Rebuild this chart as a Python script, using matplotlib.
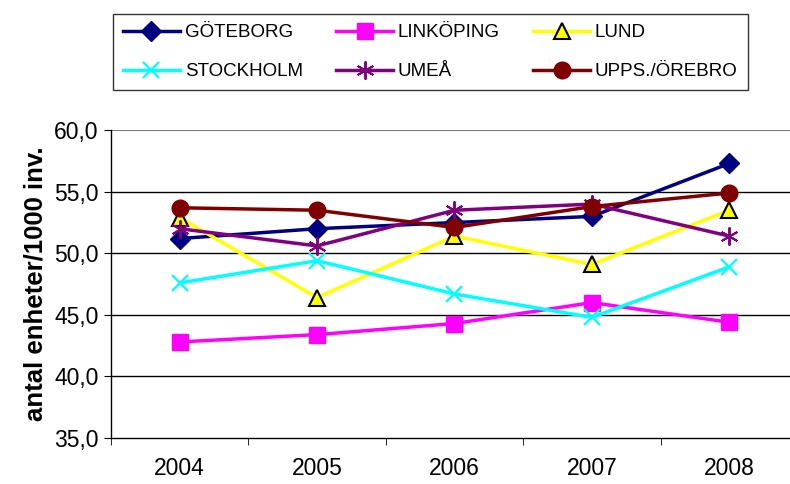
import numpy as np
import matplotlib.pyplot as plt

plt.rcParams['font.family'] = ['Liberation Sans', 'DejaVu Sans']

years = ['2004', '2005', '2006', '2007', '2008']
goteborg = [51.2, 52.0, 52.5, 53.0, 57.3]
linkoping = [42.8, 43.4, 44.3, 46.0, 44.4]
lund = [52.9, 46.4, 51.4, 49.1, 53.5]
stockholm = [47.6, 49.4, 46.7, 44.8, 48.9]
umea = [52.0, 50.6, 53.5, 54.0, 51.4]
upps_orebro = [53.7, 53.5, 52.1, 53.8, 54.9]

x = np.arange(len(years))

fig = plt.figure(figsize=(7.9, 4.84), dpi=100)
ax = fig.add_axes([0.1405, 0.095, 0.8696, 0.636])

lw = 2.5
h_gbg, = ax.plot(x, goteborg, color='#000080', lw=lw, marker='D', ms=10, label='GÖTEBORG')
h_lkp, = ax.plot(x, linkoping, color='#FF00FF', lw=lw, marker='s', ms=11, label='LINKÖPING')
h_lund, = ax.plot(x, lund, color='#FFFF00', lw=lw, marker='^', ms=12, mfc='#FFFF00',
                  mec='black', mew=1.5, label='LUND')
h_sthlm, = ax.plot(x, stockholm, color='#00FFFF', lw=lw, marker='x', ms=12, mew=1.6,
                   label='STOCKHOLM')
h_umea, = ax.plot(x, umea, color='#800080', lw=lw, marker=(6, 2, 0), ms=13, mew=1.4,
                  label='UMEÅ')
h_upps, = ax.plot(x, upps_orebro, color='#800000', lw=lw, marker='o', ms=12,
                  label='UPPS./ÖREBRO')

ax.set_xlim(-0.5, 4.5)
ax.set_ylim(35, 60)
ax.set_yticks(np.arange(35, 61, 5))
ax.set_yticklabels([f'{v:.1f}'.replace('.', ',') for v in np.arange(35, 61, 5)])
ax.set_xticks(x)
ax.set_xticklabels(years)
ax.set_xticks(np.arange(-0.5, 4.6, 1), minor=True)
ax.tick_params(axis='x', which='major', length=0, pad=14, labelsize=16.5)
ax.tick_params(axis='x', which='minor', length=5, direction='out', color='black')
ax.tick_params(axis='y', length=5, direction='out', labelsize=16.5, pad=4)

for v in [40, 45, 50, 55]:
    ax.axhline(v, color='black', lw=1, zorder=0)
ax.axhline(60, color='#808080', lw=1.5, zorder=0)
for s in ['top', 'right']:
    ax.spines[s].set_visible(False)
ax.spines['left'].set_linewidth(1)
ax.spines['bottom'].set_linewidth(1)

ax.set_ylabel('antal enheter/1000 inv.', fontsize=18.5, fontweight='bold', labelpad=5)

# legend fills column by column, so order handles to read row-wise
handles = [h_gbg, h_sthlm, h_lkp, h_umea, h_lund, h_upps]
leg = fig.legend(handles=handles, labels=[h.get_label() for h in handles],
                 loc='upper left', bbox_to_anchor=(113 / 790, 1 - 14 / 484), ncol=3,
                 fontsize=13.5, frameon=True, fancybox=False, edgecolor='black',
                 handlelength=3.0, handletextpad=0.27, columnspacing=1.8,
                 borderpad=0.55, labelspacing=1.15, borderaxespad=0)
leg.get_frame().set_linewidth(1)

fig.savefig('out.png', dpi=100)
